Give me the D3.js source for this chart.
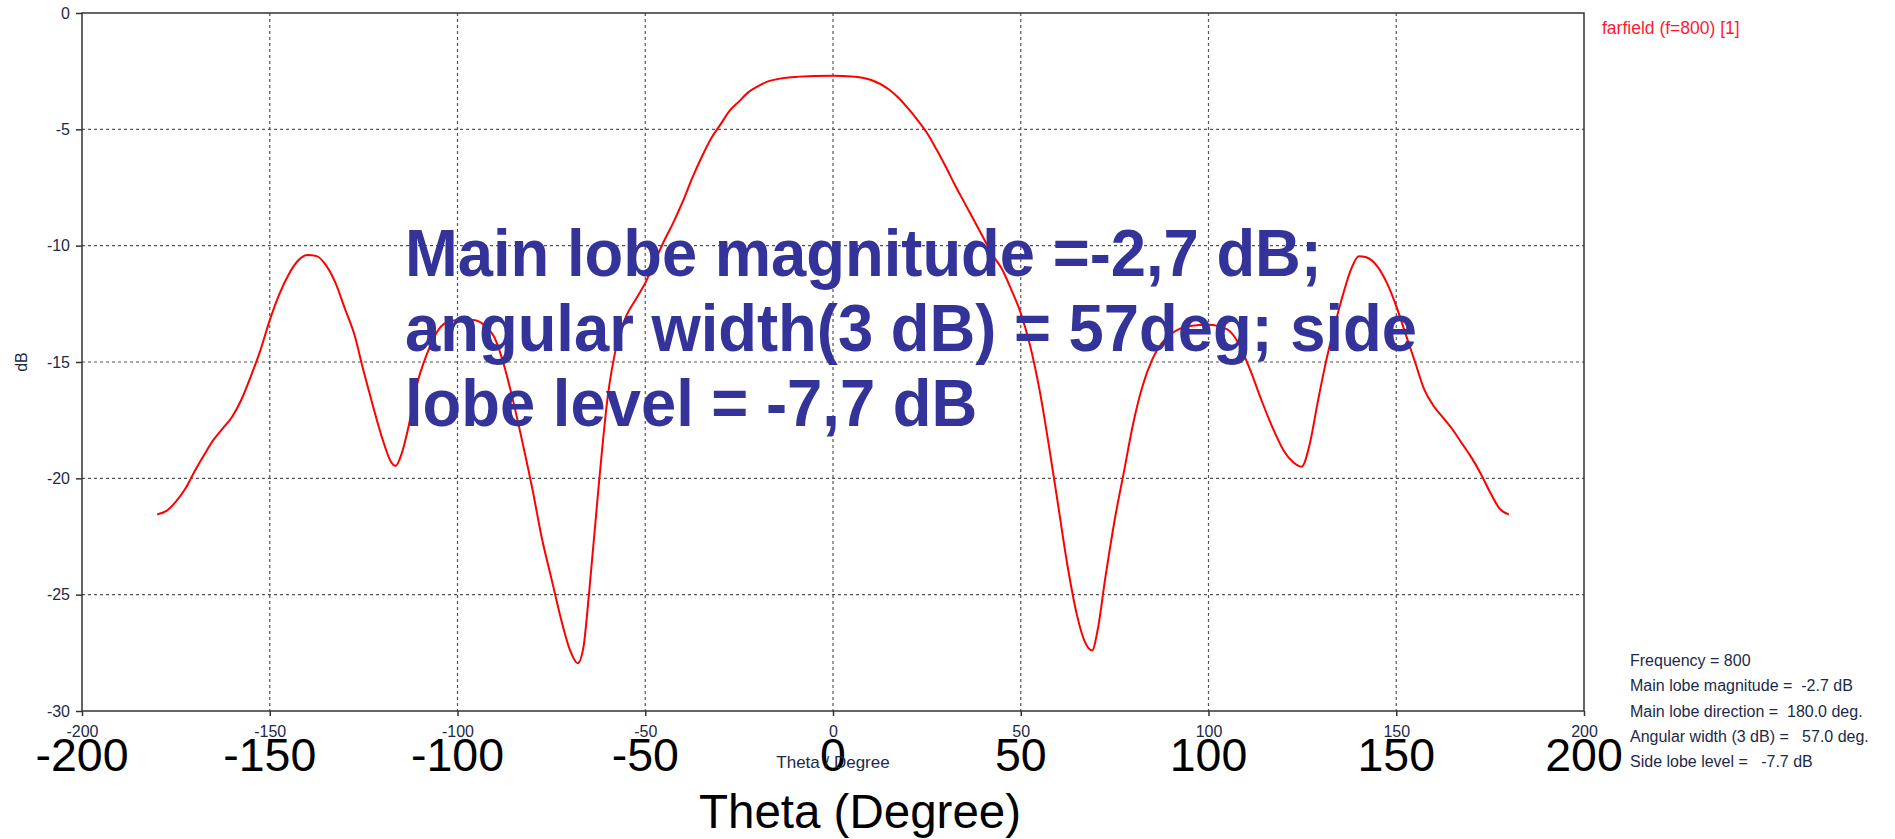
<!DOCTYPE html>
<html>
<head>
<meta charset="utf-8">
<script src="https://cdn.jsdelivr.net/npm/d3@7/dist/d3.min.js"></script>
<style>
  html, body { margin: 0; padding: 0; background: #fff; }
  svg { display: block; }
</style>
</head>
<body>
<svg id="chart" width="1895" height="839"></svg>
<script>
// Far-field cut at f = 800: gain (dB) against theta (degrees)
const thetaDeg = [
  -180, -177.5, -175, -172.5, -170, -167.5, -165, -162.5, -160, -157.5,
  -155, -152.5, -150, -147.5, -145, -142.5, -140, -137.5, -135, -132.5,
  -130, -127.5, -125, -122.5, -120, -117.5, -116.5, -115, -113, -111,
  -108, -105, -102, -99, -96, -93, -90, -87.5, -85, -82.5,
  -80, -77.5, -75, -72.5, -70, -68, -66.5, -65, -62.5, -60,
  -57.5, -55, -52.5, -50, -47.5, -45, -42.5, -40, -37.5, -35,
  -32.5, -30, -27.5, -25, -22.5, -20, -17.5, -15, -10, -5,
  0, 5, 10, 15, 17.5, 20, 22.5, 25, 27.5, 30,
  32.5, 35, 37.5, 40, 42.5, 45, 47.5, 50, 52.5, 55,
  57.5, 60, 62.5, 65, 67, 69, 70.5, 72.5, 75, 77.5,
  80, 82.5, 85, 87.5, 90, 95, 100, 105, 108, 111,
  114, 117, 120, 122.5, 124.8, 127, 129, 131, 133.5, 136,
  138, 140, 142, 145, 147.5, 150, 152.5, 155, 157.5, 160,
  162.5, 165, 167.5, 170, 172.5, 175, 177.5, 180
];
const gainDb = [
  -21.55, -21.4, -21.0, -20.45, -19.7, -19.0, -18.35, -17.85, -17.35, -16.6,
  -15.6, -14.5, -13.2, -12.1, -11.25, -10.65, -10.4, -10.45, -10.85, -11.6,
  -12.7, -13.8, -15.4, -16.9, -18.3, -19.35, -19.47, -19.0, -17.75, -16.1,
  -14.6, -13.6, -13.25, -13.2, -13.2, -13.4, -14.0, -15.2, -16.8, -18.6,
  -20.5, -22.6, -24.3, -26.0, -27.4, -27.95, -27.3, -25.0, -20.5, -16.5,
  -14.2, -13.0, -12.3, -11.6, -10.7, -9.8, -9.0, -8.1, -7.1, -6.2,
  -5.4, -4.8, -4.2, -3.8, -3.4, -3.15, -2.95, -2.85, -2.75, -2.71,
  -2.7, -2.73, -2.87, -3.3, -3.65, -4.1, -4.6, -5.15, -5.85, -6.6,
  -7.4, -8.15, -8.9, -9.65, -10.4, -11.0, -11.9, -12.9, -14.3, -16.2,
  -18.6, -21.2, -23.8, -25.9, -27.0, -27.4, -26.5, -24.3, -21.8, -19.7,
  -17.6, -16.0, -14.9, -14.2, -13.8, -13.45, -13.4, -13.6, -14.2, -15.3,
  -16.6, -17.8, -18.8, -19.3, -19.5, -18.5, -16.8, -15.2, -13.5, -12.0,
  -11.0, -10.45, -10.5, -10.9, -11.6, -12.6, -13.8, -15.0, -16.2, -16.9,
  -17.4, -17.9, -18.5, -19.1, -19.8, -20.6, -21.3, -21.55
];

const xTicks = [-200, -150, -100, -50, 0, 50, 100, 150, 200];
const yTicks = [0, -5, -10, -15, -20, -25, -30];

const seriesLabel = "farfield (f=800) [1]";
const infoLines = [
  "Frequency = 800",
  "Main lobe magnitude =  -2.7 dB",
  "Main lobe direction =  180.0 deg.",
  "Angular width (3 dB) =   57.0 deg.",
  "Side lobe level =   -7.7 dB"
];
const noteLines = [
  "Main lobe magnitude =-2,7 dB;",
  "angular width(3 dB) = 57deg; side",
  "lobe level = -7,7 dB"
];

const svg = d3.select("#chart");
const plot = { left: 82, right: 1584, top: 13, bottom: 711 };

const x = d3.scaleLinear().domain([-200, 200]).range([plot.left, plot.right]);
const y = d3.scaleLinear().domain([-30, 0]).range([plot.bottom, plot.top]);

const sans = "'Liberation Sans', Arial, sans-serif";
const labelInk = "#1c2a48";
const plain = d => String(d);   // hyphen-minus, as the plotting tool prints it

// dashed grid
const grid = svg.append("g").attr("class", "grid");
grid.selectAll("line.gx")
  .data(xTicks.filter(d => d > -200 && d < 200))
  .join("line")
  .attr("x1", d => x(d)).attr("x2", d => x(d))
  .attr("y1", plot.top).attr("y2", plot.bottom)
  .attr("stroke", "#555").attr("stroke-width", 1.2)
  .attr("stroke-dasharray", "3,3");
grid.selectAll("line.gy")
  .data(yTicks.filter(d => d > -30 && d < 0))
  .join("line")
  .attr("x1", plot.left).attr("x2", plot.right)
  .attr("y1", d => y(d)).attr("y2", d => y(d))
  .attr("stroke", "#555").attr("stroke-width", 1.2)
  .attr("stroke-dasharray", "3,3");

// frame
svg.append("rect")
  .attr("x", plot.left).attr("y", plot.top)
  .attr("width", plot.right - plot.left).attr("height", plot.bottom - plot.top)
  .attr("fill", "none").attr("stroke", "#333").attr("stroke-width", 1.5);

// y axis
const yAxis = svg.append("g")
  .attr("transform", `translate(${plot.left},0)`)
  .call(d3.axisLeft(y).tickValues(yTicks).tickSize(6).tickPadding(6).tickFormat(plain));
yAxis.select(".domain").remove();
yAxis.selectAll("line").attr("stroke", "#333").attr("stroke-width", 1.5);
yAxis.selectAll("text")
  .attr("font-family", sans).attr("font-size", 16).attr("fill", labelInk);

// x axis (small labels)
const xAxis = svg.append("g")
  .attr("transform", `translate(0,${plot.bottom})`)
  .call(d3.axisBottom(x).tickValues(xTicks).tickSize(5).tickPadding(10).tickFormat(plain));
xAxis.select(".domain").remove();
xAxis.selectAll("line").attr("stroke", "#333").attr("stroke-width", 1.5);
xAxis.selectAll("text")
  .attr("font-family", sans).attr("font-size", 16).attr("fill", labelInk);

// x axis (large labels)
svg.append("g").selectAll("text")
  .data(xTicks)
  .join("text")
  .attr("x", d => x(d)).attr("y", 771)
  .attr("text-anchor", "middle")
  .attr("font-family", sans)
  .attr("font-size", 46.5).attr("fill", "#000")
  .text(plain);

// axis titles
svg.append("text")
  .attr("x", 833).attr("y", 768)
  .attr("text-anchor", "middle")
  .attr("font-family", sans).attr("font-size", 17).attr("fill", labelInk)
  .text("Theta / Degree");
svg.append("text")
  .attr("x", 860).attr("y", 828)
  .attr("text-anchor", "middle")
  .attr("font-family", sans)
  .attr("font-size", 47.5).attr("fill", "#000")
  .text("Theta (Degree)");
svg.append("text")
  .attr("transform", "translate(27,362) rotate(-90)")
  .attr("text-anchor", "middle")
  .attr("font-family", sans).attr("font-size", 16).attr("fill", labelInk)
  .text("dB");

// pattern curve
const line = d3.line().x((d, i) => x(thetaDeg[i])).y(d => y(d)).curve(d3.curveMonotoneX);
svg.append("path")
  .datum(gainDb)
  .attr("d", line)
  .attr("fill", "none").attr("stroke", "#ff0000").attr("stroke-width", 2);

// legend
svg.append("text")
  .attr("x", 1602).attr("y", 34)
  .attr("font-family", sans).attr("font-size", 17.5).attr("fill", "#ff1a33")
  .text(seriesLabel);

// result summary
svg.append("g").selectAll("text")
  .data(infoLines)
  .join("text")
  .attr("x", 1630).attr("y", (d, i) => 666 + i * 25.3)
  .attr("font-family", sans).attr("font-size", 16).attr("fill", labelInk)
  .attr("xml:space", "preserve")
  .style("white-space", "pre")
  .text(d => d);

// annotation, set in a slightly condensed bold face
svg.append("g")
  .attr("transform", "translate(405,0) scale(0.96,1)")
  .selectAll("text")
  .data(noteLines)
  .join("text")
  .attr("x", 0).attr("y", (d, i) => 276 + i * 75)
  .attr("font-family", sans)
  .attr("font-weight", "bold").attr("font-size", 66)
  .attr("fill", "#333399")
  .text(d => d);
</script>
</body>
</html>
